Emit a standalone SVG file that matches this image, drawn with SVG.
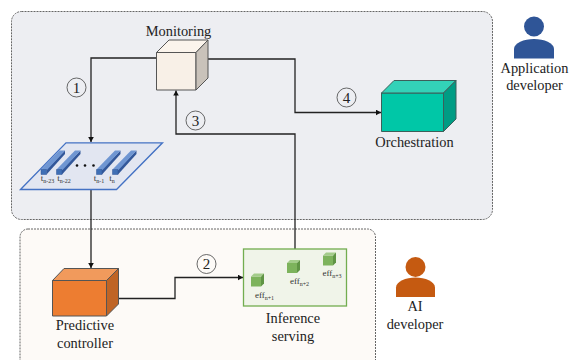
<svg xmlns="http://www.w3.org/2000/svg" width="569" height="360" viewBox="0 0 569 360">
<style>
text{font-family:"Liberation Serif","Times New Roman",serif;fill:#222;text-anchor:middle}
.l{font-size:14.400px}
.num{font-size:15px}
.s{font-size:9px;fill:#333}
.sub{font-size:6px}
.c{fill:none;stroke:#222;stroke-width:1.300}
.n{fill:none;stroke:#444;stroke-width:.8}
.cont{stroke:#666;stroke-width:1;stroke-dasharray:2 1}
.g path{stroke:#6ea84f;stroke-width:.5}
</style>
<defs>
<marker id="a" markerWidth="6" markerHeight="6" refX="5" refY="3" orient="auto" markerUnits="userSpaceOnUse"><path d="M0 0.2L5 3L0 5.800Z" fill="#111"/></marker>
<g id="bar"><path d="M5.500 0L24 -19V-15.500L5.500 5Z" fill="#33589a"/><path d="M0 0L18.500 -19H24L5.500 1Z" fill="#6f96d2"/><path d="M0 0V5H5.500V0Z" fill="#3f6fb5" stroke="#2f5597" stroke-width=".5"/></g>
<g id="cube"><path d="M0 3H10V13H0Z" fill="#7db35c"/><path d="M0 3L3 0H13L10 3Z" fill="#a3cc8a"/><path d="M10 3L13 0V10L10 13Z" fill="#5f9444"/></g>
</defs>

<g id="application-area"><rect class="cont" x="11.500" y="11.500" width="481" height="208" rx="10" fill="#edeef2"/></g>
<g id="ai-area"><rect class="cont" x="20" y="229" width="355.500" height="140" rx="8" fill="#fdfaf7"/></g>

<g id="connectors">
<path class="c" d="M156 58H91V142" marker-end="url(#a)"/>
<path class="c" d="M91 190V268" marker-end="url(#a)"/>
<path class="c" d="M107 298.500H175V277.500H243" marker-end="url(#a)"/>
<path class="c" d="M295 249V134H176V90.500" marker-end="url(#a)"/>
<path class="c" d="M208 59H295V112.500H381" marker-end="url(#a)"/>
</g>

<g id="step-1"><circle class="n" cx="76.500" cy="87.500" r="9.500"/><text class="num" x="76.500" y="92.500">1</text></g>
<g id="step-2"><circle class="n" cx="206.500" cy="264" r="9.500"/><text class="num" x="206.500" y="269">2</text></g>
<g id="step-3"><circle class="n" cx="195.500" cy="120.500" r="9.500"/><text class="num" x="195.500" y="125.500">3</text></g>
<g id="step-4"><circle class="n" cx="346.500" cy="97.500" r="9.500"/><text class="num" x="346.500" y="102.500">4</text></g>

<g id="monitoring">
<path d="M156.500 52.500H196V90H156.500Z" fill="#f8f0e7" stroke="#555" stroke-width="1"/>
<path d="M156.500 52.500L169 40H208L196 52.500Z" fill="#fbf4ec" stroke="#555" stroke-width="1"/>
<path d="M196 52.500L208 40V78L196 90Z" fill="#c9c2ba" stroke="#555" stroke-width="1"/>
<text class="l" x="178.500" y="36">Monitoring</text>
</g>

<g id="time-series">
<path d="M20.500 189.500L66 142.800H162.500L116.500 189.500Z" fill="#e2e6f1" stroke="#4472c4" stroke-width="1.300"/>
<use href="#bar" x="41" y="169.500"/><use href="#bar" x="56.500" y="169.500"/><use href="#bar" x="96.500" y="169.500"/><use href="#bar" x="112.500" y="169.500"/>
<circle cx="77" cy="165.500" r="1.300" fill="#111"/><circle cx="85" cy="165.500" r="1.300" fill="#111"/><circle cx="93.500" cy="165.500" r="1.300" fill="#111"/>
<text class="s" x="47.500" y="181">t<tspan class="sub" dy="1.500">n-23</tspan></text>
<text class="s" x="64" y="181">t<tspan class="sub" dy="1.500">n-22</tspan></text>
<text class="s" x="99" y="181">t<tspan class="sub" dy="1.500">n-1</tspan></text>
<text class="s" x="112" y="181">t<tspan class="sub" dy="1.500">n</tspan></text>
</g>

<g id="orchestration">
<path d="M381.500 93H443.500V131.500H381.500Z" fill="#00c7a7" stroke="#3d5f5a" stroke-width="1"/>
<path d="M381.500 93L394 80.500H456L443.500 93Z" fill="#33d2b8" stroke="#3d5f5a" stroke-width="1"/>
<path d="M443.500 93L456 80.500V119L443.500 131.500Z" fill="#009c84" stroke="#3d5f5a" stroke-width="1"/>
<text class="l" x="414.500" y="147">Orchestration</text>
</g>

<g id="predictive-controller">
<path d="M52.500 280.500H106.500V316H52.500Z" fill="#ed7d31" stroke="#555" stroke-width="1"/>
<path d="M52.500 280.500L64 268.500H118.500L106.500 280.500Z" fill="#f19a5c" stroke="#555" stroke-width="1"/>
<path d="M106.500 280.500L118.500 268.500V304L106.500 316Z" fill="#bf6425" stroke="#555" stroke-width="1"/>
<text class="l" x="85" y="330">Predictive</text>
<text class="l" x="85" y="348">controller</text>
</g>

<g id="inference-serving">
<rect x="243.500" y="249" width="103" height="57" fill="#f0f4e9" stroke="#72ad4f" stroke-width="1.300"/>
<g class="g"><use href="#cube" x="251" y="273.500"/><use href="#cube" x="287" y="260"/><use href="#cube" x="323" y="252.500"/></g>
<text class="s" x="264.500" y="298">eff<tspan class="sub" dy="1.500">n+1</tspan></text>
<text class="s" x="299.500" y="284">eff<tspan class="sub" dy="1.500">n+2</tspan></text>
<text class="s" x="332" y="276">eff<tspan class="sub" dy="1.500">n+3</tspan></text>
<text class="l" x="293" y="323">Inference</text>
<text class="l" x="293" y="341">serving</text>
</g>

<g id="application-developer">
<circle cx="534" cy="26.500" r="10" fill="#2f5597"/>
<path d="M514 58.500V49C514 43 524 39 534 39S554 43 554 49V58.500Z" fill="#2f5597"/>
<text class="l" x="534.500" y="73">Application</text>
<text class="l" x="534.500" y="90">developer</text>
</g>

<g id="ai-developer">
<circle cx="415.500" cy="267" r="10" fill="#c55a11"/>
<path d="M396 297V287.500C396 281.500 406 277.500 415.500 277.500S435 281.500 435 287.500V297Z" fill="#c55a11"/>
<text class="l" x="415" y="311">AI</text>
<text class="l" x="415" y="329">developer</text>
</g>
</svg>
